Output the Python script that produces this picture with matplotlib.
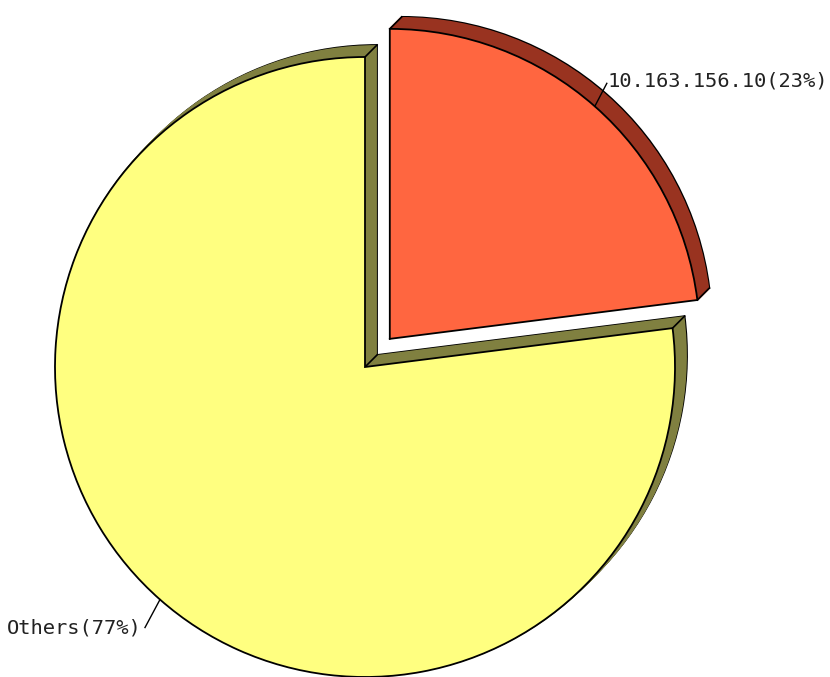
import numpy as np
import matplotlib.pyplot as plt

labels = ["10.163.156.10", "Others"]
shares = [23, 77]
face_colors = ["#FF6640", "#FFFF80"]
side_colors = ["#993320", "#808040"]
explode = [37.5, 0.0]   # pie() takes this in data units here

W, H = 830, 677
cx, cy = 365, H - 367   # pie centre (pixel coords, y up)
radius = 310
depth = 12              # extrusion towards the upper right

fig = plt.figure(figsize=(W / 100, H / 100), dpi=100)
ax = fig.add_axes([0, 0, 1, 1])

# Side walls: stack of darker pies shifted up-right, back face outlined
for k in range(depth, 0, -1):
    ws, _ = ax.pie(shares, explode=explode, colors=side_colors, radius=radius,
                   center=(cx + k, cy + k), startangle=90, counterclock=False,
                   wedgeprops=dict(linewidth=1.3))
    for w in ws:
        w.set_edgecolor("black" if k == depth else w.get_facecolor())

# Front faces
wedges, _ = ax.pie(shares, explode=explode, colors=face_colors, radius=radius,
                   center=(cx, cy), startangle=90, counterclock=False,
                   wedgeprops=dict(linewidth=1.3, edgecolor="black", zorder=5))

# Corner edges joining front and back faces (drawn beneath the faces)
for w in wedges:
    x0, y0 = w.center
    pts = [(x0, y0)]
    for a in (w.theta1, w.theta2):
        t = np.radians(a)
        pts.append((x0 + w.r * np.cos(t), y0 + w.r * np.sin(t)))
    for px, py in pts:
        ax.plot([px, px + depth], [py, py + depth], color="black", lw=1.2, zorder=2)

# Labels with short leader lines
for w, lab, pct in zip(wedges, labels, shares):
    x0, y0 = w.center
    mid = np.radians((w.theta1 + w.theta2) / 2)
    ex, ey = x0 + w.r * np.cos(mid), y0 + w.r * np.sin(mid)
    if np.cos(mid) >= 0:
        tx, ty = ex + 12, ey + 25
        ha = "left"
        ax.plot([ex, tx], [ey, ty - 2], color="black", lw=1.0, zorder=6)
        tx += 1
    else:
        tx, ty = ex - 15, ey - 28
        ha = "right"
        ax.plot([ex, tx], [ey, ty], color="black", lw=1.0, zorder=6)
        tx -= 3
    ax.text(tx, ty, f"{lab}({pct}%)", ha=ha, va="center",
            family="DejaVu Sans Mono", fontsize=14.7, color="#222222", zorder=7)

ax.set_xlim(0, W)
ax.set_ylim(0, H)
ax.set_aspect("equal")
ax.axis("off")

fig.savefig("out.png", dpi=100)
